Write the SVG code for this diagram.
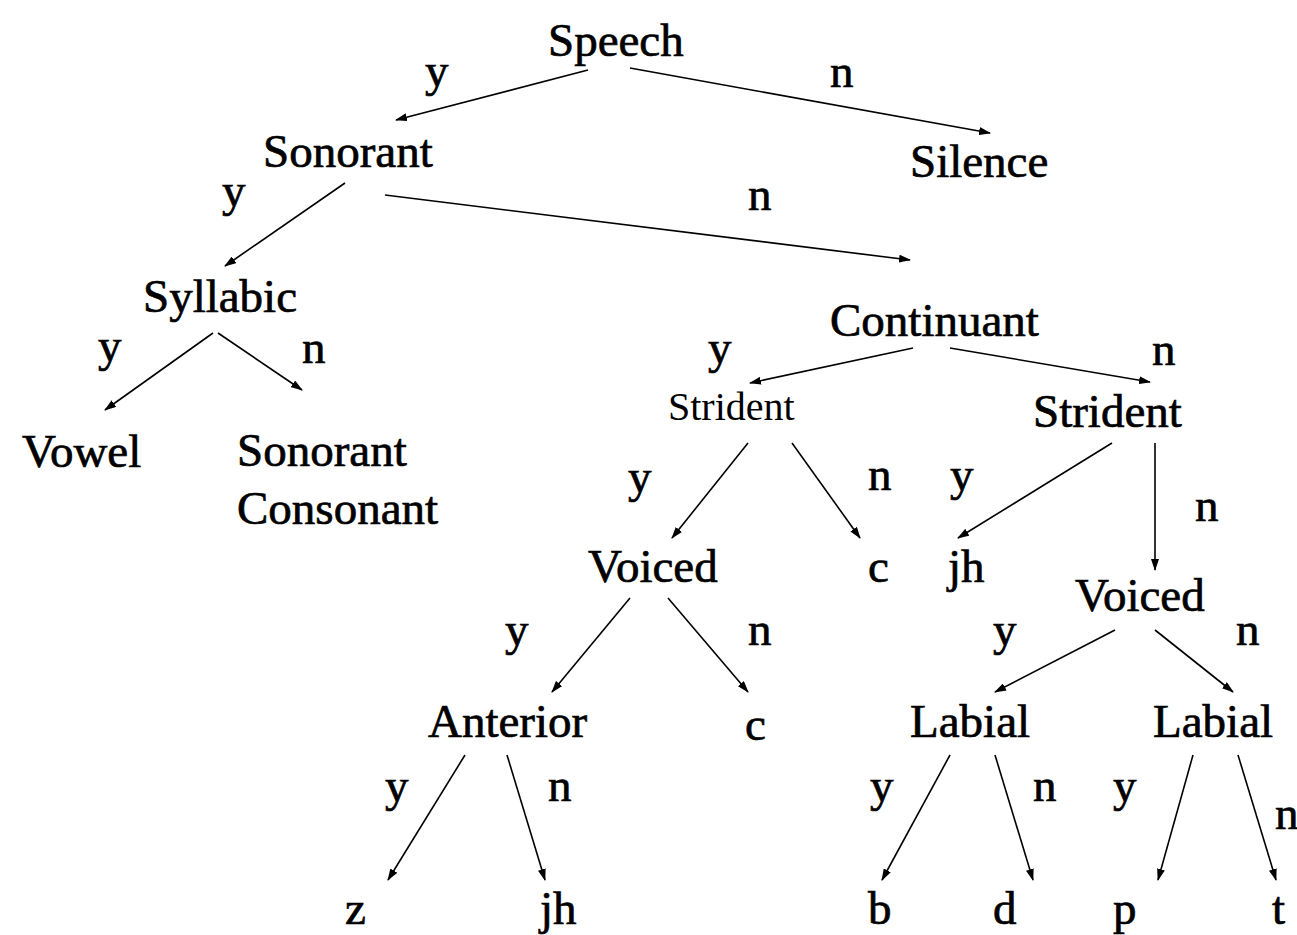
<svg xmlns="http://www.w3.org/2000/svg" width="1297" height="935" viewBox="0 0 1297 935">
<style>
text{font-family:"Liberation Serif","Times New Roman",serif;font-size:47px;fill:#000;stroke:#000;stroke-width:0.7px}
text.lt{font-size:40px;stroke-width:0}
.c line{stroke:#000;stroke-width:1.6;fill:none;marker-end:url(#ah)}
</style>
<defs>
<marker id="ah" viewBox="0 0 12 8" refX="11" refY="4" markerWidth="12" markerHeight="8" markerUnits="userSpaceOnUse" orient="auto">
<path d="M0,0 L12,4 L0,8 Z" fill="#000"/>
</marker>
</defs>
<rect width="1297" height="935" fill="#fff"/>
<g class="c" id="connectors">
<line x1="588" y1="70" x2="396" y2="120"/>
<line x1="630" y1="68" x2="990" y2="133"/>
<line x1="345" y1="183" x2="225" y2="266"/>
<line x1="385" y1="195" x2="910" y2="260"/>
<line x1="213" y1="333" x2="105" y2="410"/>
<line x1="218" y1="333" x2="302" y2="390"/>
<line x1="913" y1="348" x2="750" y2="383"/>
<line x1="950" y1="348" x2="1150" y2="382"/>
<line x1="748" y1="443" x2="672" y2="538"/>
<line x1="792" y1="443" x2="860" y2="538"/>
<line x1="1112" y1="443" x2="958" y2="538"/>
<line x1="1155" y1="443" x2="1155" y2="570"/>
<line x1="630" y1="598" x2="552" y2="692"/>
<line x1="668" y1="598" x2="748" y2="692"/>
<line x1="1115" y1="630" x2="995" y2="692"/>
<line x1="1155" y1="630" x2="1233" y2="692"/>
<line x1="465" y1="755" x2="388" y2="880"/>
<line x1="507" y1="755" x2="545" y2="880"/>
<line x1="950" y1="755" x2="882" y2="880"/>
<line x1="995" y1="755" x2="1033" y2="880"/>
<line x1="1193" y1="755" x2="1158" y2="880"/>
<line x1="1238" y1="755" x2="1276" y2="880"/>
</g>
<g id="labels">
<text x="425" y="86">y</text>
<text x="830" y="87">n</text>
<text x="222" y="206">y</text>
<text x="748" y="210">n</text>
<text x="98" y="361">y</text>
<text x="302" y="363">n</text>
<text x="708" y="363">y</text>
<text x="1152" y="365">n</text>
<text x="628" y="492">y</text>
<text x="868" y="490">n</text>
<text x="950" y="490">y</text>
<text x="1195" y="521">n</text>
<text x="505" y="645">y</text>
<text x="748" y="645">n</text>
<text x="993" y="645">y</text>
<text x="1236" y="645">n</text>
<text x="385" y="801">y</text>
<text x="548" y="801">n</text>
<text x="870" y="801">y</text>
<text x="1033" y="801">n</text>
<text x="1113" y="801">y</text>
<text x="1275" y="829">n</text>
</g>
<g id="speech"><text x="548" y="56">Speech</text></g>
<g id="sonorant"><text x="263" y="167">Sonorant</text></g>
<g id="silence"><text x="910" y="177">Silence</text></g>
<g id="syllabic"><text x="143" y="312">Syllabic</text></g>
<g id="continuant"><text x="830" y="336">Continuant</text></g>
<g id="vowel"><text x="22" y="467">Vowel</text></g>
<g id="sonorant-consonant"><text x="237" y="466">Sonorant</text><text x="237" y="524">Consonant</text></g>
<g id="strident-y"><text class="lt" x="668" y="420">Strident</text></g>
<g id="strident-n"><text x="1033" y="427">Strident</text></g>
<g id="voiced-1"><text x="588" y="582">Voiced</text></g>
<g id="c-1"><text x="868" y="582">c</text></g>
<g id="jh-1"><text x="948" y="582">jh</text></g>
<g id="voiced-2"><text x="1075" y="611">Voiced</text></g>
<g id="anterior"><text x="428" y="737">Anterior</text></g>
<g id="c-2"><text x="745" y="740">c</text></g>
<g id="labial-1"><text x="910" y="737">Labial</text></g>
<g id="labial-2"><text x="1153" y="737">Labial</text></g>
<g id="z"><text x="345" y="924">z</text></g>
<g id="jh-2"><text x="540" y="924">jh</text></g>
<g id="b"><text x="868" y="924">b</text></g>
<g id="d"><text x="993" y="924">d</text></g>
<g id="p"><text x="1113" y="924">p</text></g>
<g id="t"><text x="1272" y="924">t</text></g>
</svg>
